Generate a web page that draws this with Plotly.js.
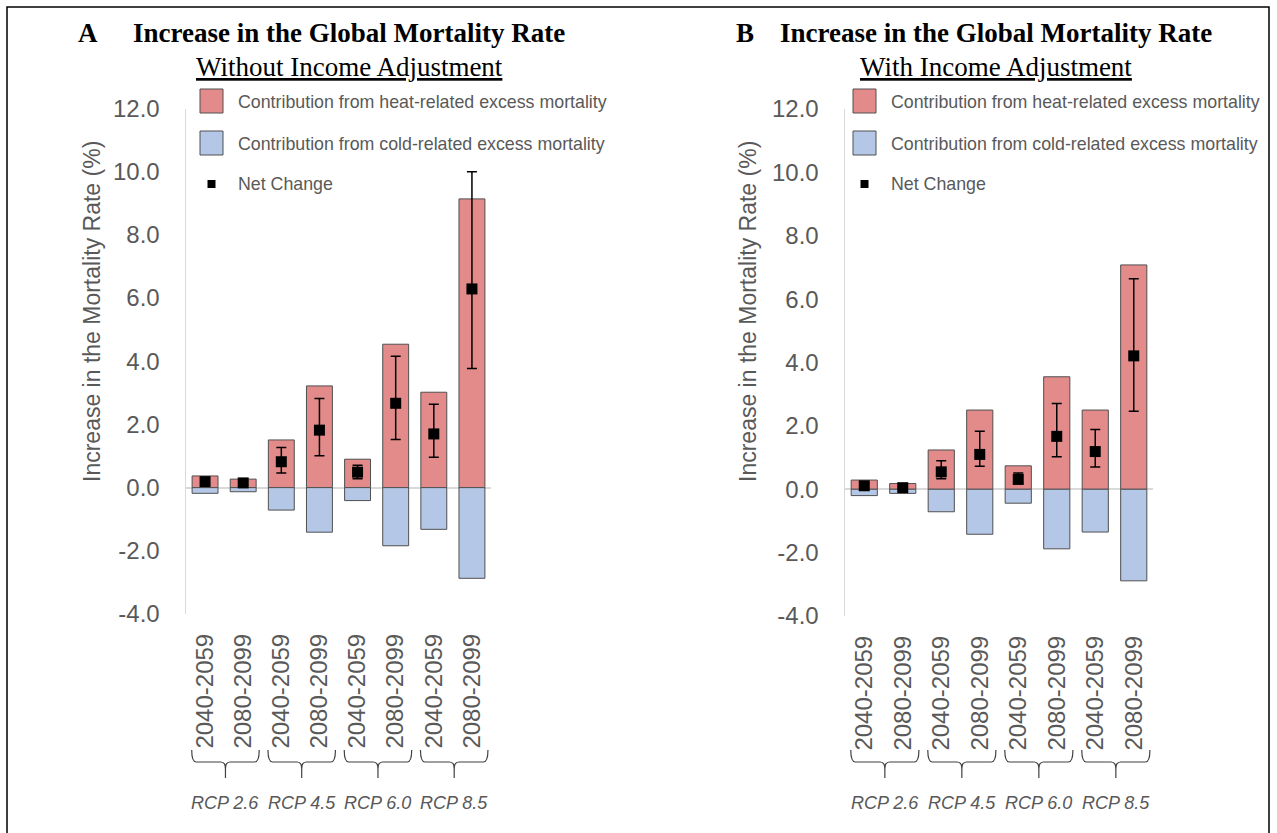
<!DOCTYPE html>
<html>
<head>
<meta charset="utf-8">
<script src="https://cdn.plot.ly/plotly-3.0.1.min.js"></script>
<style>html,body{margin:0;padding:0;background:#fff;}#chart{width:1277px;height:833px;}</style>
</head>
<body>
<div id="chart"></div>
<script>
// ---- data ----
var periods = ['2040-2059','2080-2099','2040-2059','2080-2099','2040-2059','2080-2099','2040-2059','2080-2099'];
var scenarios = ['RCP 2.6','RCP 4.5','RCP 6.0','RCP 8.5'];
var yTicks = [-4, -2, 0, 2, 4, 6, 8, 10, 12];
var yTickLabels = ['-4.0','-2.0','0.0','2.0','4.0','6.0','8.0','10.0','12.0'];
var yTitle = 'Increase in the Mortality Rate (%)';

// Panel A: without income adjustment
var heatA = [0.37, 0.27, 1.51, 3.22, 0.90, 4.54, 3.02, 9.14];
var coldA = [-0.18, -0.13, -0.71, -1.41, -0.41, -1.84, -1.32, -2.87];
var netA  = [0.19, 0.15, 0.82, 1.82, 0.49, 2.67, 1.70, 6.29];
var netHiA = [0.25, 0.20, 1.27, 2.82, 0.71, 4.16, 2.64, 10.00];
var netLoA = [0.13, 0.10, 0.46, 1.01, 0.28, 1.52, 0.96, 3.77];

// Panel B: with income adjustment
var heatB = [0.29, 0.18, 1.24, 2.50, 0.74, 3.55, 2.50, 7.08];
var coldB = [-0.20, -0.13, -0.71, -1.42, -0.44, -1.88, -1.35, -2.89];
var netB  = [0.11, 0.05, 0.55, 1.10, 0.31, 1.67, 1.19, 4.21];
var netHiB = [0.17, 0.09, 0.90, 1.83, 0.51, 2.71, 1.89, 6.64];
var netLoB = [0.06, 0.02, 0.33, 0.73, 0.19, 1.03, 0.70, 2.46];

var legendLabels = ['Contribution from heat-related excess mortality',
                    'Contribution from cold-related excess mortality',
                    'Net Change'];

// ---- styles ----
var HEAT = '#E38B8A', COLD = '#B4C7E7', EDGE = '#505050', GREY = '#595959';
var W = 1277, H = 833;
function px(x){ return x / W; }
function py(y){ return 1 - y / H; }
var xs = periods.map(function(_, i){ return i; });

function panelTraces(heat, cold, net, hi, lo, xa, ya){
  return [
    {type:'bar', x:xs, y:heat, xaxis:xa, yaxis:ya, name:legendLabels[0],
     marker:{color:HEAT, line:{color:EDGE, width:1}}, hoverinfo:'y'},
    {type:'bar', x:xs, y:cold, xaxis:xa, yaxis:ya, name:legendLabels[1],
     marker:{color:COLD, line:{color:EDGE, width:1}}, hoverinfo:'y'},
    {type:'scatter', mode:'markers', x:xs, y:net, xaxis:xa, yaxis:ya, name:legendLabels[2],
     marker:{symbol:'square', size:11, color:'#000000'},
     error_y:{type:'data', symmetric:false,
              array: hi.map(function(v,i){ return v - net[i]; }),
              arrayminus: net.map(function(v,i){ return v - lo[i]; }),
              color:'#000000', thickness:1.5, width:5}}
  ];
}

var data = [].concat(
  panelTraces(heatA, coldA, netA, netHiA, netLoA, 'x', 'y'),
  panelTraces(heatB, coldB, netB, netHiB, netLoB, 'x2', 'y2')
);

function yAxis(domain, anchor){
  return {domain:domain, anchor:anchor, range:[-4,12], tickvals:yTicks, ticktext:yTickLabels,
    showgrid:false, zeroline:true, zerolinecolor:'#D9D9D9', zerolinewidth:2,
    showline:true, linecolor:'#D9D9D9', linewidth:1.5, ticks:'', ticklabelstandoff:20,
    tickfont:{size:24, color:GREY}, layer:'above traces', fixedrange:true};
}
function xAxis(domain, anchor){
  return {domain:domain, anchor:anchor, range:[-0.5,7.5], tickvals:xs, ticktext:periods,
    tickangle:-90, tickfont:{size:24, color:GREY}, showline:false, showgrid:false,
    zeroline:false, ticks:'', ticklabelstandoff:14, fixedrange:true};
}

var shapes = [], annotations = [];

// outer border
shapes.push({type:'rect', xref:'paper', yref:'paper', x0:px(7), x1:px(1269), y0:-0.02, y1:py(7),
             line:{color:'#000', width:1.5}, fillcolor:'rgba(0,0,0,0)'});

// braces and scenario labels
function braces(xref){
  var yTop = py(750), yMid = py(762), yBot = py(778), yStem = py(769);
  scenarios.forEach(function(s, k){
    var x0 = 2*k - 0.35, x1 = 2*k + 1.42, xc = (x0 + x1) / 2, d = 0.12;
    var p = 'M ' + x0 + ',' + yTop + ' Q ' + x0 + ',' + yMid + ' ' + (x0+d) + ',' + yMid +
            ' L ' + (xc-d) + ',' + yMid + ' Q ' + xc + ',' + yMid + ' ' + xc + ',' + yStem +
            ' L ' + xc + ',' + yBot +
            ' M ' + xc + ',' + yStem + ' Q ' + xc + ',' + yMid + ' ' + (xc+d) + ',' + yMid +
            ' L ' + (x1-d) + ',' + yMid + ' Q ' + x1 + ',' + yMid + ' ' + x1 + ',' + yTop;
    shapes.push({type:'path', xref:xref, yref:'paper', path:p, line:{color:'#404040', width:1.2}});
    annotations.push({xref:xref, yref:'paper', x:xc, y:py(803), text:'<i>' + s + '</i>',
      showarrow:false, xanchor:'center', yanchor:'middle', font:{size:18, color:GREY}});
  });
}
braces('x'); braces('x2');

// y-axis titles
[92, 748].forEach(function(xx){
  annotations.push({xref:'paper', yref:'paper', x:px(xx), y:py(312), text:yTitle, textangle:-90,
    showarrow:false, xanchor:'center', yanchor:'middle', font:{size:23, color:GREY}});
});

// titles
function titles(letter, letterX, centerX, sub){
  var serif = 'Liberation Serif, Times New Roman, serif';
  annotations.push({xref:'paper', yref:'paper', x:px(letterX), y:py(33), text:'<b>' + letter + '</b>',
    showarrow:false, xanchor:'center', yanchor:'middle', font:{family:serif, size:27, color:'#000'}});
  annotations.push({xref:'paper', yref:'paper', x:px(centerX), y:py(33), text:'<b>Increase in the Global Mortality Rate</b>',
    showarrow:false, xanchor:'center', yanchor:'middle', font:{family:serif, size:27, color:'#000'}});
  annotations.push({xref:'paper', yref:'paper', x:px(centerX), y:py(67), text:'<u>' + sub + '</u>',
    showarrow:false, xanchor:'center', yanchor:'middle', font:{family:serif, size:27, color:'#000'}});
}
titles('A', 88, 349, 'Without Income Adjustment');
titles('B', 745, 996, 'With Income Adjustment');

// legends
function legend(sx, tx){
  shapes.push({type:'rect', xref:'paper', yref:'paper', x0:px(sx), x1:px(sx+23), y0:py(113), y1:py(89),
               fillcolor:HEAT, line:{color:EDGE, width:1}});
  shapes.push({type:'rect', xref:'paper', yref:'paper', x0:px(sx), x1:px(sx+23), y0:py(155), y1:py(131),
               fillcolor:COLD, line:{color:EDGE, width:1}});
  shapes.push({type:'rect', xref:'paper', yref:'paper', x0:px(sx+7.5), x1:px(sx+15.5), y0:py(188), y1:py(180),
               fillcolor:'#000', line:{color:'#000', width:0}});
  [101.5, 144, 184].forEach(function(yy, i){
    annotations.push({xref:'paper', yref:'paper', x:px(tx), y:py(yy), text:legendLabels[i],
      showarrow:false, xanchor:'left', yanchor:'middle', font:{size:17.8, color:GREY}});
  });
}
legend(200, 236);
legend(853, 889);

var layout = {
  width:W, height:H, margin:{l:0, r:0, t:0, b:0},
  paper_bgcolor:'#fff', plot_bgcolor:'rgba(0,0,0,0)',
  font:{family:'Liberation Sans, Arial, sans-serif', color:GREY},
  showlegend:false, barmode:'relative', bargap:0.32,
  xaxis: xAxis([px(186), px(491)], 'y'),
  yaxis: yAxis([0.2629, 0.8697], 'x'),
  xaxis2: xAxis([px(845), px(1153)], 'y2'),
  yaxis2: yAxis([0.2605, 0.8691], 'x2'),
  shapes:shapes, annotations:annotations
};

Plotly.newPlot('chart', data, layout, {displayModeBar:false, staticPlot:true});
</script>
</body>
</html>
